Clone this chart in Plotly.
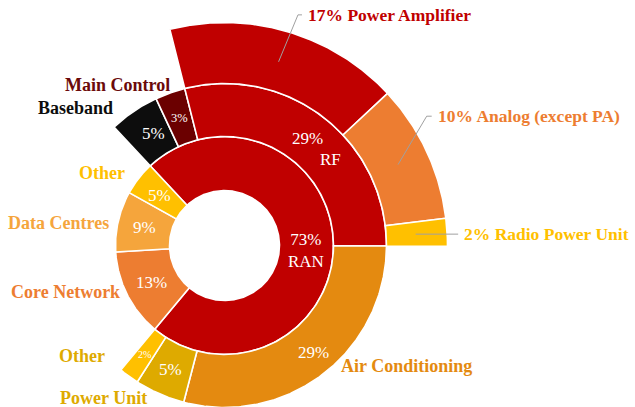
import math
import numpy as np
import plotly.graph_objects as go

# ---------------- data ----------------
inner_labels = ["RAN", "Core Network", "Data Centres", "Other"]
inner_values = [73, 13, 9, 5]

middle_labels = ["Baseband", "Main Control", "RF", "Air Conditioning", "Power Unit", "Other"]
middle_values = [5, 3, 29, 29, 5, 2]   # children of RAN

outer_labels = ["Power Amplifier", "Analog (except PA)", "Radio Power Unit"]
outer_values = [17, 10, 2]             # children of RF

# ---------------- style ----------------
inner_colors = ["#C00000", "#ED7D31", "#F5A53C", "#FFC000"]
middle_colors = ["#0D0D0D", "#6B0000", "#C00000", "#E48A10", "#DEAA00", "#FFC000"]
outer_colors = ["#C00000", "#ED7D31", "#FFC000"]

W, H = 635, 407
CX, CY = 224.5, 245.5          # chart centre in figure pixels
START_DEG = 317.0              # clockwise from 12 o'clock
RADII = [55, 109, 162, 223]
FONT = "Liberation Serif"
LEADER = "#A0A0A0"

total = sum(inner_values)
deg_per = 360.0 / total


def pol(r, a):
    t = math.radians(a)
    return r * math.sin(t), r * math.cos(t)


def ring_segments(values, start):
    segs, a = [], start
    for v in values:
        a1 = a + v * deg_per
        segs.append((a, a1))
        a = a1
    return segs


inner_segs = ring_segments(inner_values, START_DEG)
middle_segs = ring_segments(middle_values, inner_segs[inner_labels.index("RAN")][0])
outer_segs = ring_segments(outer_values, middle_segs[middle_labels.index("RF")][0])

fig = go.Figure()


def add_sector(r0, r1, a0, a1, color, name):
    n = max(int(abs(a1 - a0) / 0.5) + 2, 3)
    t = np.radians(np.linspace(a0, a1, n))
    xo, yo = r1 * np.sin(t), r1 * np.cos(t)
    xi, yi = r0 * np.sin(t[::-1]), r0 * np.cos(t[::-1])
    x = np.concatenate([xo, xi, xo[:1]])
    y = np.concatenate([yo, yi, yo[:1]])
    fig.add_trace(go.Scatter(x=x, y=y, mode="lines", fill="toself",
                             fillcolor=color,
                             line=dict(color="white", width=1.6),
                             hoverinfo="text", text=name, showlegend=False))


rings = [
    (inner_labels, inner_values, inner_segs, inner_colors, RADII[0], RADII[1]),
    (middle_labels, middle_values, middle_segs, middle_colors, RADII[1], RADII[2]),
    (outer_labels, outer_values, outer_segs, outer_colors, RADII[2], RADII[3]),
]
for labels, values, segs, colors, r0, r1 in rings:
    for lab, v, (a0, a1), c in zip(labels, values, segs, colors):
        add_sector(r0, r1, a0, a1, c, f"{lab}: {v}%")

annotations = []


def add_text(x, y, text, size, color, xanchor="center", bold=False, xshift=0, yshift=0):
    if bold:
        text = f"<b>{text}</b>"
    annotations.append(dict(x=x, y=y, xref="x", yref="y", text=text, showarrow=False,
                            xanchor=xanchor, yanchor="middle", xshift=xshift, yshift=yshift,
                            borderpad=0,
                            font=dict(family=FONT, size=size, color=color)))


# inside percentage labels (inner + middle rings)
inside_shift = {("inner", "RAN"): (0, -7), ("middle", "Air Conditioning"): (6, 0),
                ("middle", "Baseband"): (5, 0)}
for ring_name, labels, values, segs, r0, r1 in [
        ("inner", inner_labels, inner_values, inner_segs, RADII[0], RADII[1]),
        ("middle", middle_labels, middle_values, middle_segs, RADII[1], RADII[2])]:
    for lab, v, (a0, a1) in zip(labels, values, segs):
        x, y = pol((r0 + r1) / 2, (a0 + a1) / 2)
        txt = f"{v}%"
        if (ring_name, lab) == ("inner", "RAN"):
            txt = f"{v}%<br>{lab}"
        size = 17 if v > 3 else (12.5 if v == 3 else 10)
        dx, dy = inside_shift.get((ring_name, lab), (0, 0))
        add_text(x, y, txt, size, "white", xshift=dx, yshift=dy)

# the RF name inside its segment
a0, a1 = middle_segs[middle_labels.index("RF")]
x, y = pol((RADII[1] + RADII[2]) / 2 + 1, (a0 + a1) / 2 + 13.2)
add_text(x, y, "RF", 17, "white")

# outside name labels for inner / middle rings: (radius, angle offset, anchor, colour)
side_style = {
    ("middle", "Baseband"): (176, -4.8, "right", "#0D0D0D"),
    ("middle", "Main Control"): (169.3, 1.1, "right", "#6B0A0A"),
    ("inner", "Other"): (122.7, -1.6, "right", "#FFC000"),
    ("inner", "Data Centres"): (116.6, -1.8, "right", "#F5A53C"),
    ("inner", "Core Network"): (113.3, 2.7, "right", "#ED7D31"),
    ("middle", "Other"): (162, 10.8, "right", "#DEAA00"),
    ("middle", "Power Unit"): (171, 3.1, "right", "#DEAA00"),
    ("middle", "Air Conditioning"): (166.7, -6.3, "left", "#E48A10"),
}
for ring_name, labels, segs in [("inner", inner_labels, inner_segs),
                                ("middle", middle_labels, middle_segs)]:
    for lab, (a0, a1) in zip(labels, segs):
        st = side_style.get((ring_name, lab))
        if st is None:
            continue
        r, da, anchor, col = st
        x, y = pol(r, (a0 + a1) / 2 + da)
        add_text(x, y, lab, 18, col, xanchor=anchor, bold=True)

# outer ring labels with leader lines: (elbow radius, angle offset, tail, text gap, dy)
outer_style = {"Power Amplifier": (243, 1.2, 4, 9, -1),
               "Analog (except PA)": (240, -7.6, 5, 10, 0),
               "Radio Power Unit": (234, 0.3, 0, 5, 0)}
r_mid = (RADII[2] + RADII[3]) / 2
for lab, v, (a0, a1), c in zip(outer_labels, outer_values, outer_segs, outer_colors):
    am = (a0 + a1) / 2
    sx, sy = pol(r_mid - 1, am)
    er, da, tail, gap, dy = outer_style[lab]
    ex, ey = pol(er, am + da)
    ey += dy
    if lab == "Radio Power Unit":
        ey = sy
    fig.add_trace(go.Scatter(x=[sx, ex, ex + tail], y=[sy, ey, ey], mode="lines",
                             line=dict(color=LEADER, width=1), hoverinfo="skip",
                             showlegend=False))
    add_text(ex + gap, ey, f"{v}% {lab}", 17.5, c, xanchor="left", bold=True)

fig.update_layout(
    width=W, height=H,
    margin=dict(l=0, r=0, t=0, b=0),
    paper_bgcolor="white", plot_bgcolor="white",
    xaxis=dict(range=[-CX, W - CX], visible=False, fixedrange=True),
    yaxis=dict(range=[-(H - CY), CY], visible=False, fixedrange=True),
    annotations=annotations,
    font=dict(family=FONT),
    showlegend=False,
)

# remove the browser's default 8px page margin so the figure fills the window
fig.write_html("out.html", config={"displayModeBar": False},
               post_script="document.body.style.margin='0';document.body.style.overflow='hidden';")
